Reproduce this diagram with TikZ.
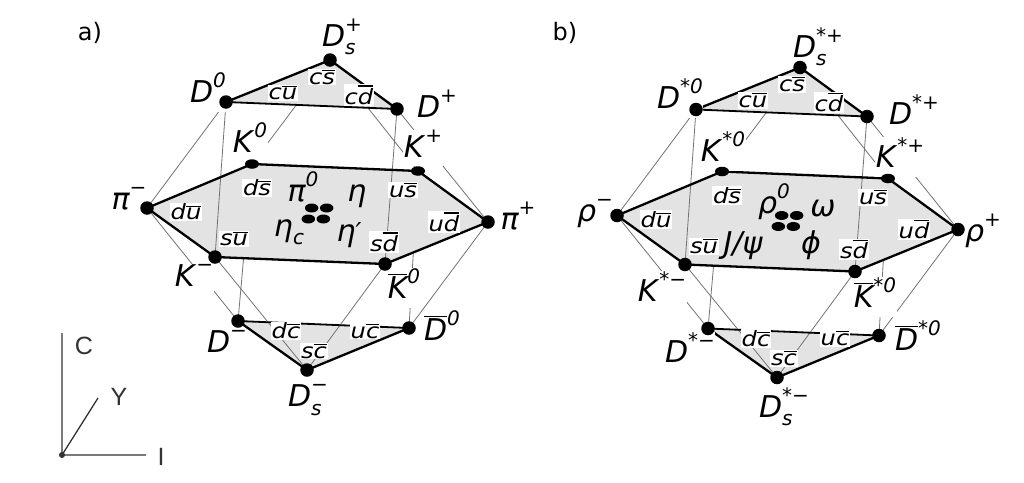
\documentclass[tikz,border=0pt]{standalone}
\usepackage{fontspec}
\setmainfont{DejaVu Sans}
\newfontfamily\qfont[FakeStretch=1.15]{DejaVu Sans}
\newfontfamily\lsans{Liberation Sans}
\usetikzlibrary{shapes.geometric}
\newcommand\ab[1]{\vbox{\hrule height 1.1pt\kern1.7pt\hbox{#1}}}
\newcommand\pp[3]{#1\ooalign{\raisebox{.5em}{\fontsize{20}{20}\selectfont #2}\cr\raisebox{-.28em}{\fontsize{20}{20}\selectfont #3}\cr}}
\tikzset{
  vtx/.style={circle,fill=black,inner sep=0pt,minimum size=13.5pt},
  vtxe/.style={ellipse,fill=black,inner sep=0pt,minimum width=14pt,minimum height=9.5pt},
  cdot/.style={ellipse,fill=black,inner sep=0pt,minimum width=13.5pt,minimum height=9pt},
  thinl/.style={line width=0.8pt,black!55},
  edgel/.style={line width=2.3pt,line join=round},
  midl/.style={line width=1.8pt},
  face/.style={fill=black!11},
  qk/.style={fill=white,inner sep=1pt,font=\qfont\fontsize{21}{21}\selectfont\itshape},
  lab/.style={fill=white,inner sep=0.5pt,font=\fontsize{30}{30}\selectfont\itshape},
  ctr/.style={inner sep=0pt,font=\fontsize{30}{30}\selectfont\itshape},
  axl/.style={line width=1.3pt,black!80},
  axt/.style={inner sep=0pt,text=black!80,font=\fontsize{25}{25}\selectfont\lsans},
  tag/.style={inner sep=0pt,font=\fontsize{24}{24}\selectfont}
}
\newcommand\skel[2]{%
\begin{scope}[shift={#2}]
\coordinate (#1Dsp) at (330,60);
\coordinate (#1D0) at (226,102);
\coordinate (#1Dp) at (397,109);
\coordinate (#1K0) at (252,164);
\coordinate (#1Kp) at (418,171);
\coordinate (#1pim) at (147,208);
\coordinate (#1pip) at (488,222);
\coordinate (#1Km) at (215,257);
\coordinate (#1Kb0) at (385,264);
\coordinate (#1Dm) at (238,321);
\coordinate (#1Db0) at (409,328);
\coordinate (#1Dsm) at (307,370);
\draw[thinl] (#1Dsp)--(#1K0) (#1Dsp)--(#1Kp) (#1K0)--(#1Dm) (#1Kp)--(#1Db0)
  (#1pim)--(#1D0) (#1pim)--(#1Dm) (#1pip)--(#1Dp) (#1pip)--(#1Db0);
\fill[face] (#1D0)--(#1Dsp)--(#1Dp)--cycle;
\fill[face] (#1pim)--(#1K0)--(#1Kp)--(#1pip)--(#1Kb0)--(#1Km)--cycle;
\fill[face] (#1Dm)--(#1Db0)--(#1Dsm)--cycle;
\draw[thinl] (#1D0)--(#1Km) (#1Dp)--(#1Kb0) (#1Km)--(#1Dsm) (#1Kb0)--(#1Dsm);
\draw[edgel] (#1D0)--(#1Dsp)--(#1Dp);
\draw[midl] (#1D0)--(#1Dp);
\draw[edgel] (#1pim)--(#1K0)--(#1Kp)--(#1pip)--(#1Kb0)--(#1Km)--cycle;
\draw[midl] (#1Dm)--(#1Db0);
\draw[edgel] (#1Dm)--(#1Dsm)--(#1Db0);
\node[cdot] (#1c1) at (311.7,208) {};
\node[cdot] (#1c2) at (326.7,208) {};
\node[cdot] (#1c3) at (308.3,219) {};
\node[cdot] (#1c4) at (323.3,219) {};
\node[qk] (#1q1) at (322,77) {c\ab{s}};
\node[qk] (#1q2) at (283,93) {c\ab{u}};
\node[qk] (#1q3) at (359,95) {c\ab{d}};
\node[qk] (#1q4) at (257,188) {d\ab{s}};
\node[qk] (#1q5) at (403,190) {u\ab{s}};
\node[qk] (#1q6) at (186,212) {d\ab{u}};
\node[qk] (#1q7) at (444,222) {u\ab{d}};
\node[qk] (#1q8) at (234,239) {s\ab{u}};
\node[qk] (#1q9) at (384,242) {s\ab{d}};
\node[qk] (#1q10) at (286,331) {d\ab{c}};
\node[qk] (#1q11) at (365,331) {u\ab{c}};
\node[qk] (#1q12) at (314,351) {s\ab{c}};
\end{scope}}
\newcommand\vtxdots[1]{%
\node[vtx] (#1nDsp) at (#1Dsp) {};
\node[vtx] (#1nD0) at (#1D0) {};
\node[vtx] (#1nDp) at (#1Dp) {};
\node[vtxe] (#1nK0) at (#1K0) {};
\node[vtxe] (#1nKp) at (#1Kp) {};
\node[vtx] (#1npim) at (#1pim) {};
\node[vtx] (#1npip) at (#1pip) {};
\node[vtx] (#1nKm) at (#1Km) {};
\node[vtx] (#1nKb0) at (#1Kb0) {};
\node[vtx] (#1nDm) at (#1Dm) {};
\node[vtx] (#1nDb0) at (#1Db0) {};
\node[vtx] (#1nDsm) at (#1Dsm) {};}
\begin{document}
\begin{tikzpicture}[x=1pt,y=-1pt]
\path[fill=white,use as bounding box] (0,0) rectangle (1024,482);
\skel{a}{(0,0)}
\skel{b}{(470,7.5)}
% labels a
\node[lab] (aLDsp) at (342,37) {\pp{D}{+}{s}};
\node[lab] (aLD0) at (208,92) {\pp{D}{0}{}};
\node[lab] (aLDp) at (437,108) {\pp{D}{+}{}};
\node[lab] (aLK0) at (250,142) {\pp{K\kern2pt}{0}{}};
\node[lab] (aLKp) at (423,148) {\pp{K\kern2pt}{+}{}};
\node[lab] (aLpim) at (129,203) {\pp{π}{−}{}};
\node[lab] (aLpip) at (518,220) {\pp{π}{+}{}};
\node[lab] (aLKm) at (194,280) {\pp{K\kern2pt}{−}{}};
\node[lab] (aLKb0) at (404,288) {\pp{\ab{K}}{0}{}};
\node[lab] (aLDm) at (227,346) {\pp{D}{−}{}};
\node[lab] (aLDb0) at (442,330) {\pp{\ab{D}}{0}{}};
\node[lab] (aLDsm) at (308,400) {\pp{D}{−}{s}};
\node[ctr] (aC1) at (303,191) {\pp{π}{0}{}};
\node[ctr] (aC2) at (357,196) {η};
\node[ctr] (aC3) at (289,232) {\pp{η}{}{c}};
\node[ctr] (aC4) at (349,235) {η\fontsize{26}{26}\selectfont\char"2032};
% labels b
\node[lab] (bLDsp) at (818,47) {\pp{D}{*+}{s}};
\node[lab] (bLD0) at (680,98) {\pp{D}{*0}{}};
\node[lab] (bLDp) at (914,114) {\pp{D}{*+}{}};
\node[lab] (bLK0) at (723,151) {\pp{K\kern2pt}{*0}{}};
\node[lab] (bLKp) at (900,157) {\pp{K\kern2pt}{*+}{}};
\node[lab] (bLpim) at (595,215) {\pp{ρ}{−}{}};
\node[lab] (bLpip) at (983,232) {\pp{ρ}{+}{}};
\node[lab] (bLKm) at (662,291) {\pp{K\kern2pt}{*−}{}};
\node[lab] (bLKb0) at (875,297) {\pp{\ab{K}}{*0}{}};
\node[lab] (bLDm) at (690,352) {\pp{D}{*−}{}};
\node[lab] (bLDb0) at (918,340) {\pp{\ab{D}}{*0}{}};
\node[lab] (bLDsm) at (784,407) {\pp{D}{*−}{s}};
\node[ctr] (bC1) at (774,203) {\pp{ρ}{0}{}};
\node[ctr] (bC2) at (823,209) {ω};
\node[ctr] (bC3) at (743,246) {J/ψ};
\node[ctr] (bC4) at (811,245) {ϕ};
\vtxdots{a}
\vtxdots{b}
% tags
\node[tag] (ta) at (90,33) {a)};
\node[tag] (tb) at (565,33) {b)};
% axes
\coordinate (ao) at (62,455);
\coordinate (ac) at (62,333);
\coordinate (ay) at (98,398);
\coordinate (ai) at (146,455);
\draw[axl] (ao)--(ac) (ao)--(ay) (ao)--(ai);
\node[circle,fill=black!80,inner sep=0pt,minimum size=6pt] (aon) at (ao) {};
\node[axt] (tC) at (84,346) {C};
\node[axt] (tY) at (119,397) {Y};
\node[axt] (tI) at (161,457) {I};
\end{tikzpicture}
\end{document}
